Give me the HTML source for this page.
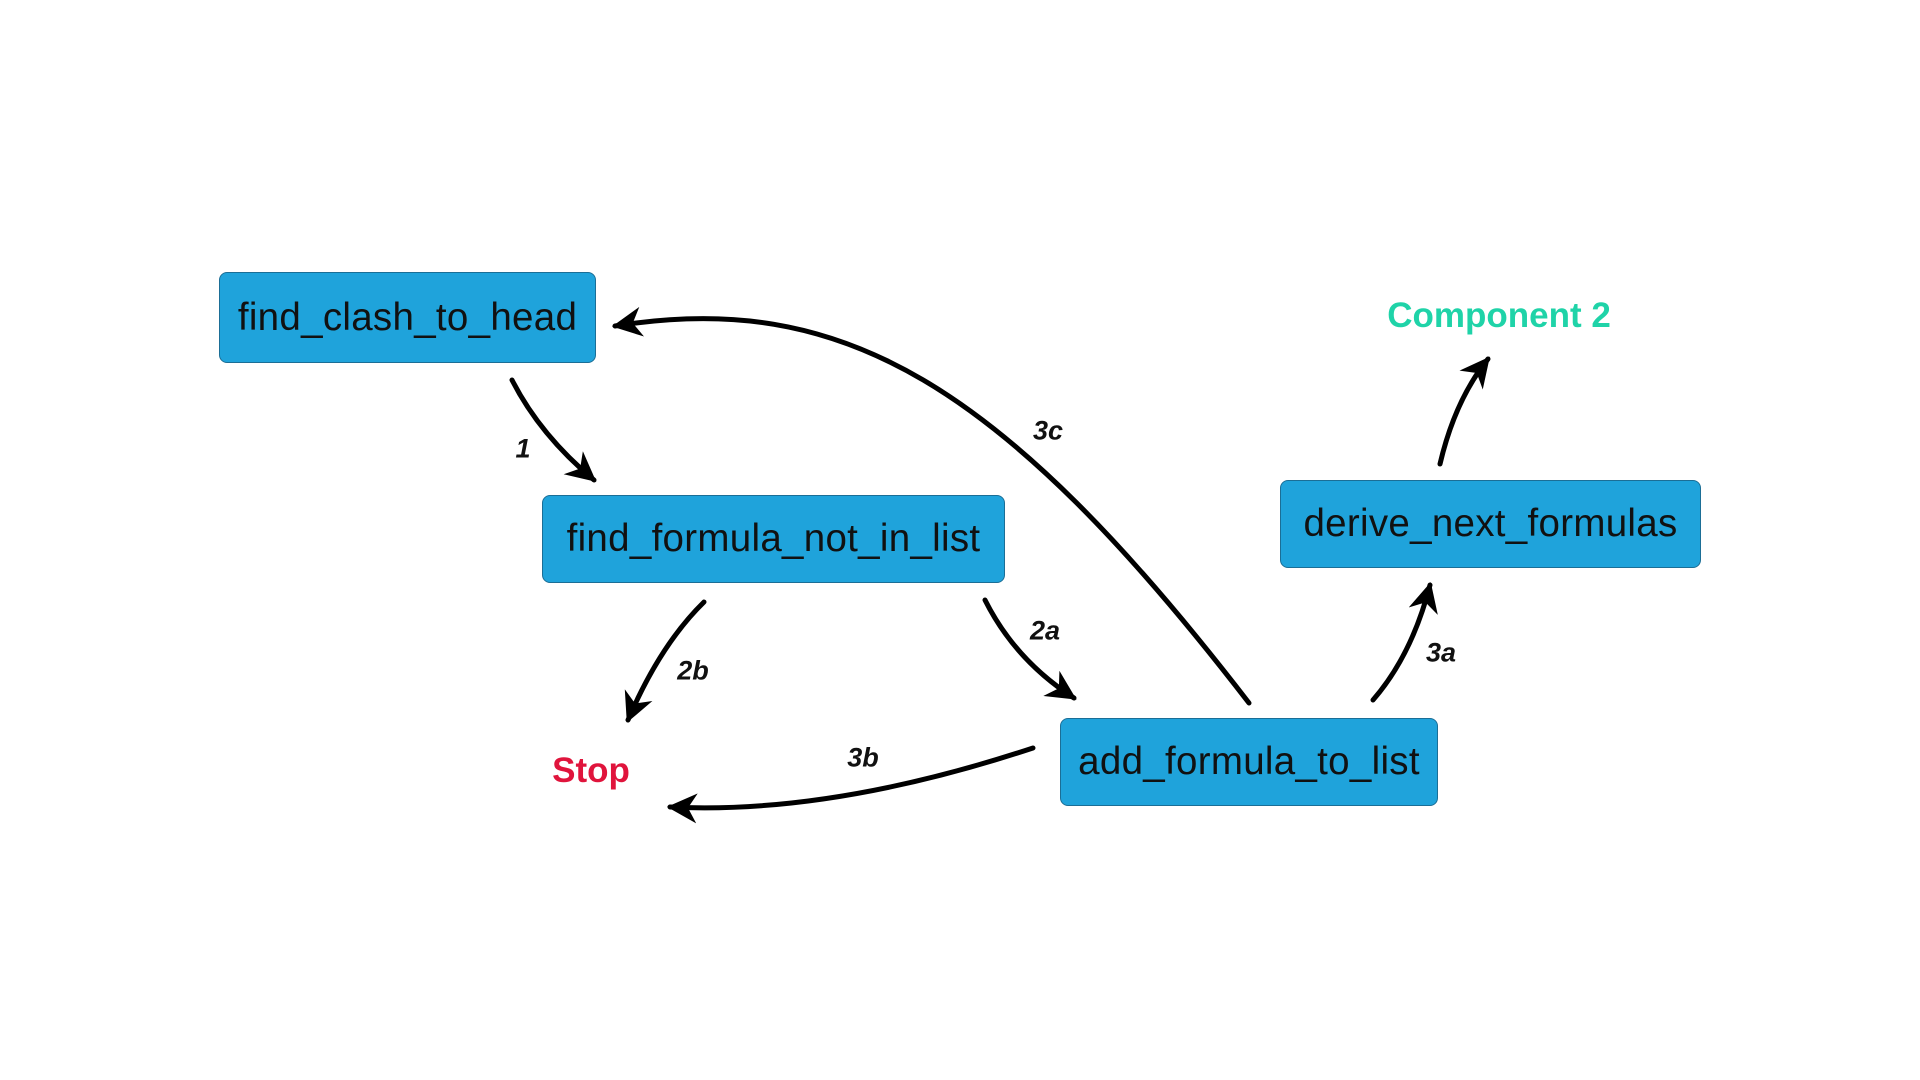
<!DOCTYPE html>
<html><head><meta charset="utf-8"><style>
body{margin:0;width:1920px;height:1080px;background:#fff;overflow:hidden;position:relative;font-family:"Liberation Sans",sans-serif}
.b{position:absolute;background:#1fa3db;border:1px solid #1b6e96;border-radius:8px;box-sizing:border-box;display:flex;align-items:center;justify-content:center;font-size:38.5px;color:#111;letter-spacing:0.3px}
.l{position:absolute;font-style:italic;font-weight:bold;font-size:27px;transform:translate(-50%,-50%);color:#111}
</style></head><body>
<svg width="1920" height="1080" style="position:absolute;left:0;top:0">
<defs><marker id="a" viewBox="0 0 10 10" refX="9" refY="5" markerWidth="6" markerHeight="6" orient="auto" markerUnits="strokeWidth">
<path d="M0,0 L10,5 L0,10 L3,5 Z" fill="#000"/></marker></defs>
<g fill="none" stroke="#000" stroke-width="5" marker-end="url(#a)" stroke-linecap="round">
<path d="M512,380 Q540,435 594,480"/>
<path d="M1249,703 C1000,380 840,290 615,326"/>
<path d="M704,602 Q660,645 628,720"/>
<path d="M985,600 Q1015,660 1074,698"/>
<path d="M1033,748 Q830,815 670,807"/>
<path d="M1373,700 Q1412,655 1430,585"/>
<path d="M1440,464 Q1455,400 1488,359"/>
</g></svg>
<div class="b" style="left:219px;top:272px;width:377px;height:91px">find_clash_to_head</div>
<div class="b" style="left:542px;top:495px;width:463px;height:88px">find_formula_not_in_list</div>
<div class="b" style="left:1060px;top:718px;width:378px;height:88px">add_formula_to_list</div>
<div class="b" style="left:1280px;top:480px;width:421px;height:88px">derive_next_formulas</div>
<div style="position:absolute;left:1499px;top:316px;transform:translate(-50%,-50%);color:#1fd3a8;font-weight:bold;font-size:35px;white-space:nowrap">Component 2</div>
<div style="position:absolute;left:591px;top:771px;transform:translate(-50%,-50%);color:#e0143c;font-weight:bold;font-size:35px">Stop</div>
<div class="l" style="left:523px;top:449px">1</div>
<div class="l" style="left:693px;top:671px">2b</div>
<div class="l" style="left:1045px;top:631px">2a</div>
<div class="l" style="left:863px;top:758px">3b</div>
<div class="l" style="left:1441px;top:653px">3a</div>
<div class="l" style="left:1048px;top:431px">3c</div>
</body></html>
